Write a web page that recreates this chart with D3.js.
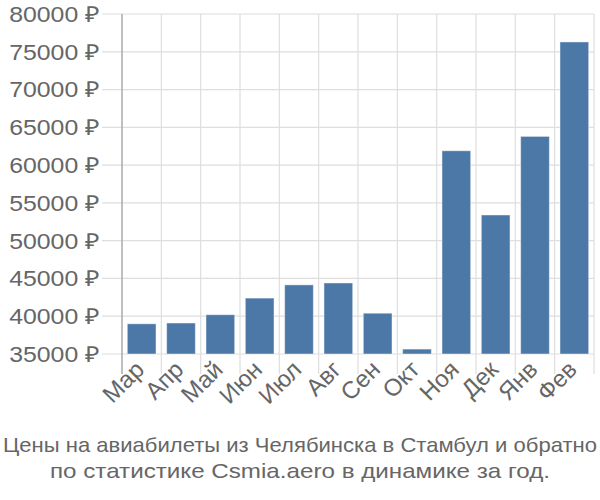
<!DOCTYPE html>
<html><head><meta charset="utf-8">
<script src="https://cdn.jsdelivr.net/npm/d3@7"></script>
<style>body{margin:0;background:#fff}svg{display:block}text{font-family:"Liberation Sans",Arial,sans-serif;fill:#666}</style>
</head><body><svg id="c" width="600" height="500"></svg>
<script>
const categories = ["Мар","Апр","Май","Июн","Июл","Авг","Сен","Окт","Ноя","Дек","Янв","Фев"];
const prices = [39000,39100,40200,42400,44150,44400,40400,35650,61900,53400,63800,76300];
const yTicks = [35000,40000,45000,50000,55000,60000,65000,70000,75000,80000];
const titleLines = ["Цены на авиабилеты из Челябинска в Стамбул и обратно","по статистике Csmia.aero в динамике за год."];

const svg = d3.select("#c");
const L=122,R=594,T=14,B=354;
const x = d3.scaleBand().domain(categories).range([L,R]).paddingInner(0.27).paddingOuter(0.135);
const xg = d3.scaleBand().domain(categories).range([L,R]).padding(0);
const y = d3.scaleLinear().domain([35000,80000]).range([B,T]);

// horizontal grid
svg.append("g").selectAll("line").data(yTicks).join("line")
  .attr("x1",102).attr("x2",R).attr("y1",d=>y(d)).attr("y2",d=>y(d))
  .attr("stroke","#dedede").attr("stroke-width",1.2);
// vertical grid
svg.append("g").selectAll("line").data(categories).join("line")
  .attr("x1",d=>xg(d)+xg.step()).attr("x2",d=>xg(d)+xg.step())
  .attr("y1",T).attr("y2",374).attr("stroke","#dedede").attr("stroke-width",1.2);
// y labels
svg.append("g").selectAll("text").data(yTicks).join("text")
  .attr("transform",d=>`translate(100,${y(d)}) scale(1.13,1)`)
  .attr("dy","0.36em").attr("text-anchor","end")
  .attr("font-size",22).text(d=>d+" ₽");
// bars
svg.append("g").selectAll("rect").data(prices).join("rect")
  .attr("x",(d,i)=>x(categories[i])).attr("width",x.bandwidth())
  .attr("y",d=>y(d)).attr("height",d=>y(35000)-y(d))
  .attr("fill","#4c78a8").attr("stroke","rgba(255,255,255,0.45)").attr("stroke-width",1);
// y axis line
svg.append("line").attr("x1",L).attr("x2",L).attr("y1",T).attr("y2",374).attr("stroke","#aaa").attr("stroke-width",1.5);
// x labels
svg.append("g").selectAll("text").data(categories).join("text")
  .attr("text-anchor","end").attr("font-size",24)
  .attr("transform",d=>`translate(${x(d)+x.bandwidth()/2+4},${371}) rotate(-45)`)
  .text(d=>d);
// title
const titleW=[594,500];
svg.append("g").selectAll("text").data(titleLines).join("text")
  .attr("x",300).attr("y",(d,i)=>452+i*26)
  .attr("text-anchor","middle").attr("font-size",21)
  .attr("textLength",(d,i)=>titleW[i]).attr("lengthAdjust","spacingAndGlyphs")
  .text(d=>d);
</script></body></html>
